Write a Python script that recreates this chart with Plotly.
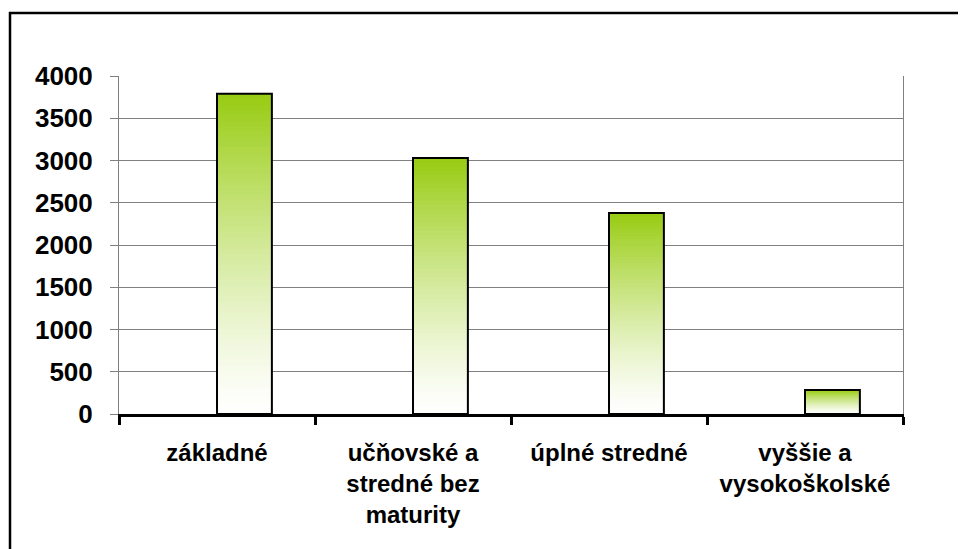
import plotly.graph_objects as go

CATEGORIES = ["základné", "učňovské a<br>stredné bez<br>maturity", "úplné stredné", "vyššie a<br>vysokoškolské"]
VALUES = [3790, 3030, 2380, 285]
Y_TICKS = [0, 500, 1000, 1500, 2000, 2500, 3000, 3500, 4000]

GREEN = (153, 204, 20)
N_STEPS = 60

fig = go.Figure()

# gradient: tallest (green) first, shorter/lighter slices drawn on top
for k in range(N_STEPS):
    frac = (N_STEPS - k) / N_STEPS
    f = frac ** 1.3
    r, g, b = [round(255 - (255 - c) * f) for c in GREEN]
    fig.add_trace(go.Bar(
        x=CATEGORIES,
        y=[v * frac for v in VALUES],
        offset=0, width=0.28,
        marker=dict(color=f"rgb({r},{g},{b})", line=dict(width=0)),
        hoverinfo="skip", showlegend=False
    ))

# outline
fig.add_trace(go.Bar(
    x=CATEGORIES, y=VALUES,
    offset=0, width=0.28,
    marker=dict(color="rgba(0,0,0,0)", line=dict(color="black", width=2)),
    showlegend=False
))

# page body adds 8px margin, so figure is 8px smaller than the window
W, H = 958, 541
L, T = 111, 68
pw, ph = 784, 338
R, B = W - L - pw, H - T - ph

fig.add_shape(
    type="rect", xref="paper", yref="paper",
    x0=(2 - L) / pw, x1=(W + 20 - L) / pw,
    y0=-(B + 20) / ph, y1=(H - B - 5) / ph,
    line=dict(color="black", width=2.5), layer="above"
)

fig.update_layout(
    width=W, height=H,
    barmode="overlay",
    plot_bgcolor="white", paper_bgcolor="white",
    margin=dict(l=L, r=R, t=T, b=B),
    font=dict(family="Liberation Sans", color="black"),
    xaxis=dict(
        tickson="boundaries", ticks="outside", ticklen=8, tickwidth=3, tickcolor="black",
        showline=True, linecolor="black", linewidth=3,
        tickfont=dict(size=24, family="Liberation Sans", weight="bold"),
        ticklabelstandoff=15, showgrid=False, fixedrange=True
    ),
    yaxis=dict(
        range=[0, 4000], tickvals=Y_TICKS,
        showgrid=True, gridcolor="#808080", gridwidth=1,
        showline=True, linecolor="#808080", linewidth=1, mirror=True,
        ticks="outside", ticklen=8, tickcolor="#808080",
        tickfont=dict(size=26, family="Liberation Sans", weight="bold"),
        ticklabelstandoff=12, zeroline=False, fixedrange=True
    ),
)

fig.write_html("out.html")
